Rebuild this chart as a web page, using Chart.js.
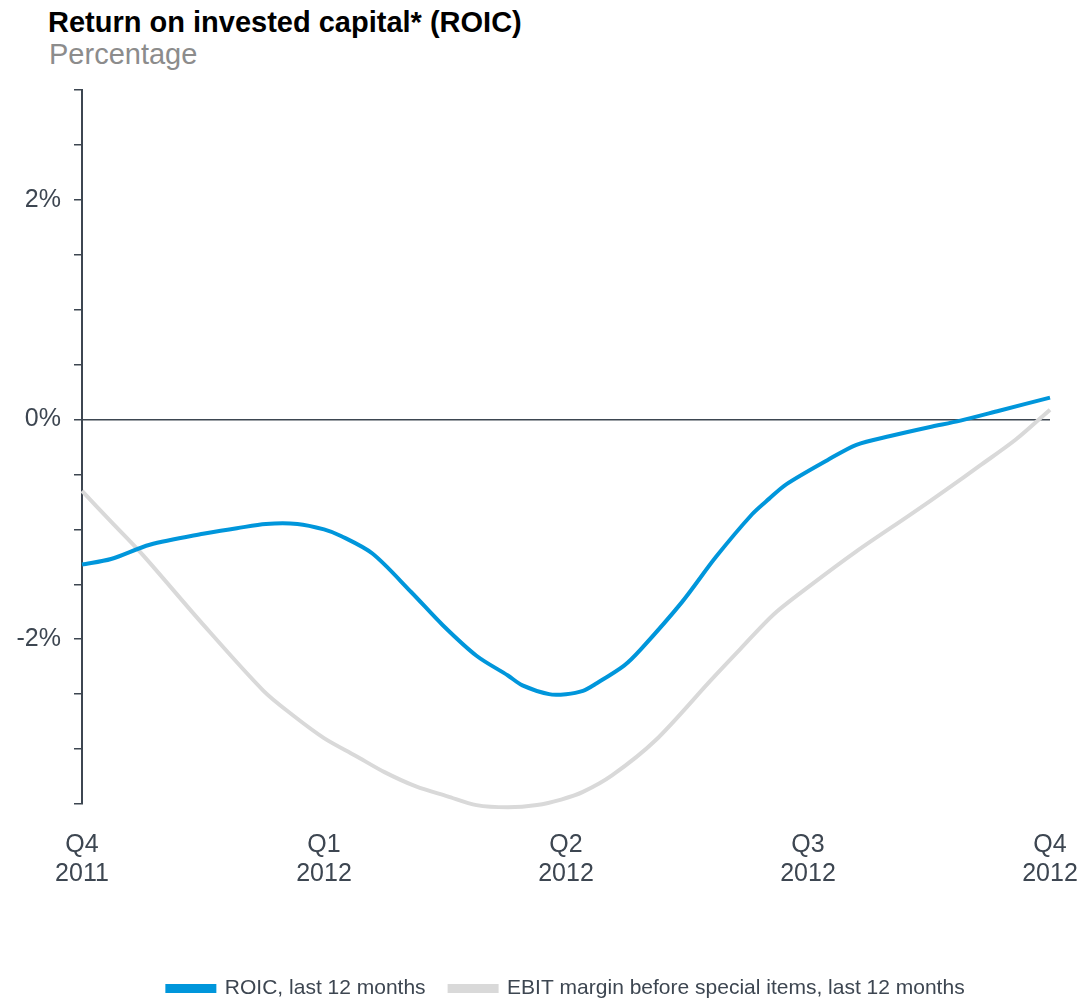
<!DOCTYPE html>
<html>
<head>
<meta charset="utf-8">
<script src="https://cdn.jsdelivr.net/npm/chart.js@4.4.1/dist/chart.umd.min.js"></script>
<style>
  html, body { margin: 0; padding: 0; background: #fff; }
  body { width: 1080px; height: 998px; position: relative; overflow: hidden; font-family: "Liberation Sans", Arial, sans-serif; }
  #titulo { position: absolute; left: 48px; top: 8px; font-size: 29px; line-height: 29px; font-weight: bold; color: #000; white-space: nowrap; }
  #subtitulo { position: absolute; left: 49px; top: 40px; font-size: 29px; line-height: 29px; color: #8c8c8c; white-space: nowrap; }
  #wrap { position: absolute; left: 0; top: 0; width: 1080px; height: 998px; }
</style>
</head>
<body>
<div id="titulo">Return on invested capital* (ROIC)</div>
<div id="subtitulo">Percentage</div>
<div id="wrap"><canvas id="chartRoic"></canvas></div>
<script>
// eixo x em trimestres: 0 = Q4 2011 ... 4 = Q4 2012
const trimestres = [['Q4', '2011'], ['Q1', '2012'], ['Q2', '2012'], ['Q3', '2012'], ['Q4', '2012']];
const rotulosY = [2, 0, -2];

const roicPos = [0, 0.12, 0.28, 0.5, 0.64, 0.76, 0.89, 1.0, 1.07, 1.2, 1.36, 1.49, 1.63, 1.76, 1.82, 1.93, 2.0, 2.07, 2.12, 2.24, 2.31, 2.48, 2.62, 2.77, 2.84, 2.91, 3.08, 3.2, 3.34, 3.5, 3.63, 3.79, 4.0];
const roicValores = [-1.32, -1.27, -1.14, -1.04, -0.99, -0.95, -0.95, -1.0, -1.06, -1.22, -1.57, -1.87, -2.15, -2.33, -2.42, -2.5, -2.5, -2.47, -2.41, -2.24, -2.09, -1.66, -1.25, -0.86, -0.72, -0.59, -0.37, -0.23, -0.15, -0.07, -0.01, 0.08, 0.2];

const ebitPos = [0, 0.12, 0.25, 0.49, 0.75, 0.87, 1.0, 1.13, 1.25, 1.38, 1.51, 1.63, 1.76, 1.88, 1.98, 2.07, 2.19, 2.37, 2.6, 2.72, 2.86, 3.01, 3.2, 3.42, 3.57, 3.71, 3.86, 4.0];
const ebitValores = [-0.65, -0.93, -1.23, -1.84, -2.47, -2.69, -2.9, -3.06, -3.21, -3.34, -3.43, -3.51, -3.53, -3.51, -3.46, -3.39, -3.24, -2.92, -2.37, -2.09, -1.77, -1.51, -1.2, -0.87, -0.64, -0.42, -0.18, 0.09];

const corTexto = '#3d4651';
const fonte = '"Liberation Sans", Arial, sans-serif';

const pares = (xs, ys) => xs.map((x, i) => ({ x: x, y: ys[i] }));

new Chart('chartRoic', {
    type: 'line',
    data: {
        datasets: [{
            label: 'ROIC, last 12 months',
            data: pares(roicPos, roicValores),
            borderColor: '#0096db',
            backgroundColor: '#0096db',
            borderWidth: 4,
            pointRadius: 0,
            tension: 0.3,
            clip: false
        }, {
            label: 'EBIT margin before special items, last 12 months',
            data: pares(ebitPos, ebitValores),
            borderColor: '#d9d9d9',
            backgroundColor: '#d9d9d9',
            borderWidth: 4,
            pointRadius: 0,
            tension: 0.3,
            clip: false
        }]
    },
    options: {
        responsive: true,
        maintainAspectRatio: false,
        animation: false,
        layout: { padding: { left: 0, right: 30, top: 90, bottom: -11 } },
        plugins: {
            tooltip: { enabled: false },
            legend: {
                position: 'bottom',
                fullSize: false,
                labels: {
                    color: corTexto,
                    font: { family: fonte, size: 21 },
                    boxWidth: 47,
                    boxHeight: 5,
                    padding: 24
                }
            }
        },
        scales: {
            x: {
                type: 'linear',
                min: 0,
                max: 4,
                border: { display: false },
                grid: { display: false, drawTicks: false },
                ticks: {
                    stepSize: 1,
                    color: corTexto,
                    font: { family: fonte, size: 25, lineHeight: 1.18 },
                    padding: 26,
                    maxRotation: 0,
                    callback: (v) => trimestres[v]
                },
                afterFit: (escala) => {
                    escala.height = 150;
                    escala.paddingLeft = 0;
                    escala.paddingRight = 0;
                }
            },
            y: {
                min: -3.5,
                max: 3,
                border: { display: true, color: corTexto, width: 2 },
                grid: {
                    color: (ctx) => ctx.tick && ctx.tick.value === 0 ? corTexto : 'rgba(0,0,0,0)',
                    lineWidth: 1.5,
                    tickColor: corTexto,
                    tickLength: 8,
                    tickWidth: 1.5
                },
                ticks: {
                    stepSize: 0.5,
                    color: corTexto,
                    font: { family: fonte, size: 25 },
                    padding: 13,
                    callback: (v) => rotulosY.includes(v) ? (v === 0 ? 0 : v) + '%' : ''
                },
                afterFit: (escala) => { escala.width = 82; }
            }
        }
    }
});
</script>
</body>
</html>
